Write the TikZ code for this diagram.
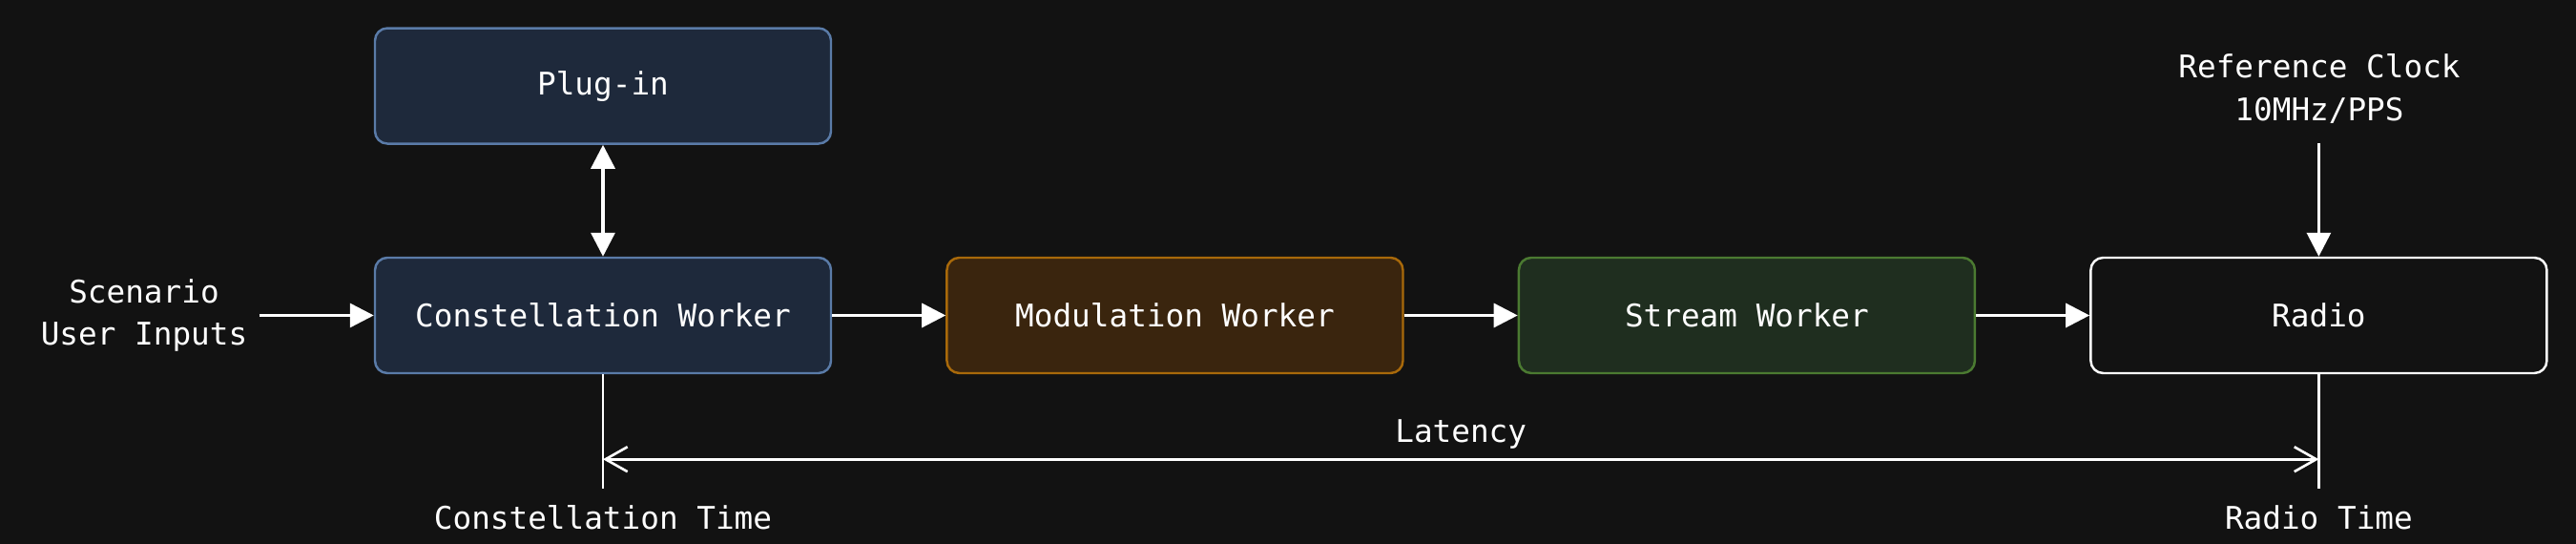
\documentclass[tikz,border=0pt]{standalone}
\usepackage{xcolor}
\usepackage{fontspec}
\setmonofont{DejaVu Sans Mono}
\usepackage{tikz}
\usetikzlibrary{arrows.meta,positioning}
\definecolor{pageBg}{HTML}{121212}
\definecolor{constFill}{HTML}{1E293B}
\definecolor{constLine}{HTML}{5A7BA8}
\definecolor{modFill}{HTML}{3A250E}
\definecolor{modLine}{HTML}{A8690A}
\definecolor{streamFill}{HTML}{1F2E1F}
\definecolor{streamLine}{HTML}{4B7A31}

\begin{document}
\begin{tikzpicture}[
    node distance = 1.19cm,
    align=center,
    font=\ttfamily\fontsize{9.3}{12.8}\selectfont,
    text=white,
    worker/.style = {rectangle, draw, rounded corners=0.13cm, line width=0.7pt, minimum width=4.78cm, minimum height=1.21cm},
    plain/.style = {inner sep=0.12cm},
    arrow/.style = {-{Triangle[length=0.25cm,width=0.25cm]}, line width=0.95pt, color=white},
    tick/.style = {line width=0.75pt, color=white},
    span/.style = {{Straight Barb[length=0.23cm,width=0.26cm]}-{Straight Barb[length=0.23cm,width=0.26cm]}, line width=0.75pt, color=white}
]
    % Page
    \fill[pageBg] (0,0) rectangle (27,-5.7);
    \useasboundingbox (0,0) rectangle (27,-5.7);

    % Pipeline
    \node [worker, fill=constFill, draw=constLine] (constellation) at (6.32,-3.305) {Constellation Worker};
    \node [worker, fill=modFill, draw=modLine, right=of constellation] (modulation) {Modulation Worker};
    \node [worker, fill=streamFill, draw=streamLine, right=of modulation] (stream) {Stream Worker};
    \node [worker, fill=pageBg, draw=white, right=of stream] (radio) {Radio};
    \node [worker, fill=constFill, draw=constLine, above=1.17cm of constellation] (plugin) {Plug-in};

    % Inputs
    \node [plain] (scenario) at (1.51,-3.305) {Scenario\\User Inputs};
    \node [plain] (clock) at (24.31,-0.93) {Reference Clock\\10MHz/PPS};
    \coordinate (clockout) at ([yshift=1.19cm]radio.north);

    % Connections
    \draw [arrow] (scenario.east) -- (constellation.west);
    \draw [arrow] (constellation) -- (modulation);
    \draw [arrow] (modulation) -- (stream);
    \draw [arrow] (stream) -- (radio);
    \draw [arrow, {Triangle[length=0.25cm,width=0.25cm]}-{Triangle[length=0.25cm,width=0.25cm]}] (plugin) -- (constellation);
    \draw [arrow] (clockout) -- (radio);

    % Timing marks
    \coordinate (constend) at ([yshift=-1.2cm]constellation.south);
    \coordinate (radioend) at ([yshift=-1.2cm]radio.south);
    \coordinate (latleft) at ([yshift=-0.89cm]constellation.south);
    \coordinate (latright) at ([yshift=-0.89cm]radio.south);
    \draw [tick] (constellation.south) -- (constend);
    \draw [tick] (radio.south) -- (radioend);
    \draw [span] (latleft) -- node[above=-0.02cm] (latency) {Latency} (latright);
    \node [below=0.05cm of constend] (consttime) {Constellation Time};
    \node [below=0.05cm of radioend] (radiotime) {Radio Time};
\end{tikzpicture}
\end{document}
